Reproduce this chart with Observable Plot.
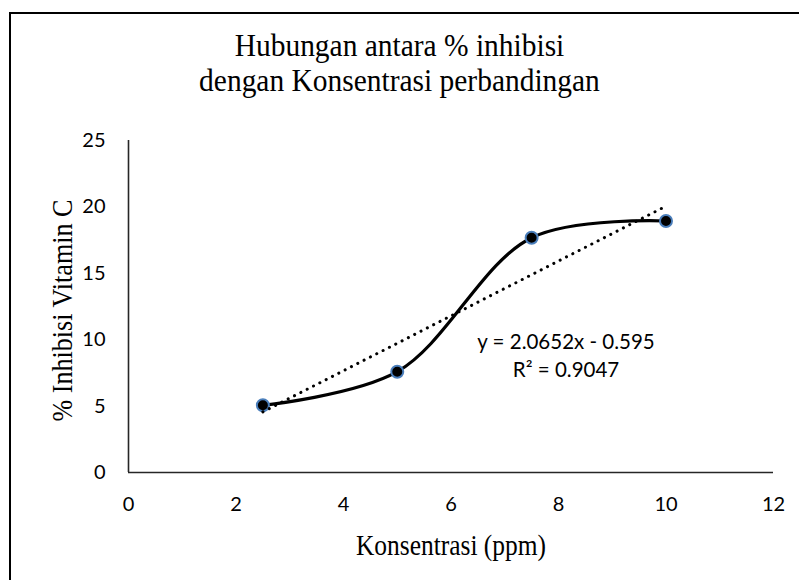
<!DOCTYPE html>
<html>
<head>
<meta charset="utf-8">
<script src="https://cdn.jsdelivr.net/npm/d3@7"></script>
<script src="https://cdn.jsdelivr.net/npm/@observablehq/plot@0.6"></script>
<style>
  html, body { margin: 0; padding: 0; background: #fff; }
  #wrap { position: relative; width: 799px; height: 580px; overflow: hidden; background: #fff; }
  #frame { position: absolute; left: 9px; top: 12px; width: 900px; height: 700px; border: 2.5px solid #000; box-sizing: border-box; pointer-events: none; }
  #title { position: absolute; left: 0; top: 29px; width: 799px; text-align: center; font-family: "Liberation Serif", "Times New Roman", serif; font-size: 31px; line-height: 34.5px; color: #000; transform: scaleX(0.95); transform-origin: 399.5px 0; }
  #chart { position: absolute; left: 0; top: 120px; }
</style>
</head>
<body>
<div id="wrap">
  <div id="frame"></div>
  <div id="title">Hubungan antara % inhibisi<br>dengan Konsentrasi perbandingan</div>
  <div id="chart"></div>
</div>
<script>
// ---- data ----
const concentration = [2.5, 5, 7.5, 10];
const inhibition = [5.06, 7.59, 17.68, 18.94];
const xTicks = [0, 2, 4, 6, 8, 10, 12];
const yTicks = [0, 5, 10, 15, 20, 25];
const trendSlope = 2.0652;
const trendIntercept = -0.595;
const trendRange = [2.5, 10];
const equationLines = ["y = 2.0652x - 0.595", "R\u00B2 = 0.9047"];
const equationAt = [8.14, 8.93];
const xTitle = "Konsentrasi (ppm)";
const yTitle = "% Inhibisi Vitamin C";

const points = concentration.map((x, i) => ({x, y: inhibition[i]}));
const trend = trendRange.map(x => ({x, y: trendSlope * x + trendIntercept}));

const serif = "Liberation Serif, Times New Roman, serif";

const chart = Plot.plot({
  width: 799,
  height: 460,
  marginLeft: 128,
  marginRight: 26,
  marginTop: 20,
  marginBottom: 108,
  style: {fontFamily: "Lato, sans-serif", fontSize: "20px", background: "transparent", color: "#000", overflow: "visible"},
  x: {domain: [0, 12], ticks: xTicks, tickSize: 0, tickPadding: 24, label: null},
  y: {domain: [0, 25], ticks: yTicks, tickSize: 0, tickPadding: 23, label: null},
  marks: [
    Plot.ruleY([0], {stroke: "#262626", strokeWidth: 1.6}),
    Plot.ruleX([0], {stroke: "#262626", strokeWidth: 1.6}),
    Plot.line(points, {x: "x", y: "y", curve: "catmull-rom", stroke: "#000", strokeWidth: 3.2}),
    Plot.dot(points, {x: "x", y: "y", r: 6, fill: "#000", stroke: "#4a7ebb", strokeWidth: 2}),
    Plot.line(trend, {x: "x", y: "y", stroke: "#000", strokeWidth: 3, strokeLinecap: "round", strokeDasharray: "0.1,7"}),
    Plot.text([equationLines.join("\n")], {x: () => equationAt[0], y: () => equationAt[1], text: d => d, fontSize: 20.5, lineHeight: 1.37, fill: "#000"}),
    Plot.text([xTitle], {frameAnchor: "bottom", lineAnchor: "middle", textAnchor: "middle", dy: 73, text: d => d, fontFamily: serif, fontSize: 30, fill: "#000"}),
    Plot.text([yTitle], {frameAnchor: "left", lineAnchor: "middle", textAnchor: "middle", dx: -66, dy: 4, rotate: -90, text: d => d, fontFamily: serif, fontSize: 30, fill: "#000"})
  ]
});
// condense the serif axis titles (narrow Times look of the original)
const titleWidths = {[xTitle]: 190, [yTitle]: 222};
d3.select(chart).selectAll("text").each(function() {
  const t = this.textContent;
  if (titleWidths[t]) {
    this.setAttribute("textLength", titleWidths[t]);
    this.setAttribute("lengthAdjust", "spacingAndGlyphs");
  }
});
document.getElementById("chart").appendChild(chart);
</script>
</body>
</html>
